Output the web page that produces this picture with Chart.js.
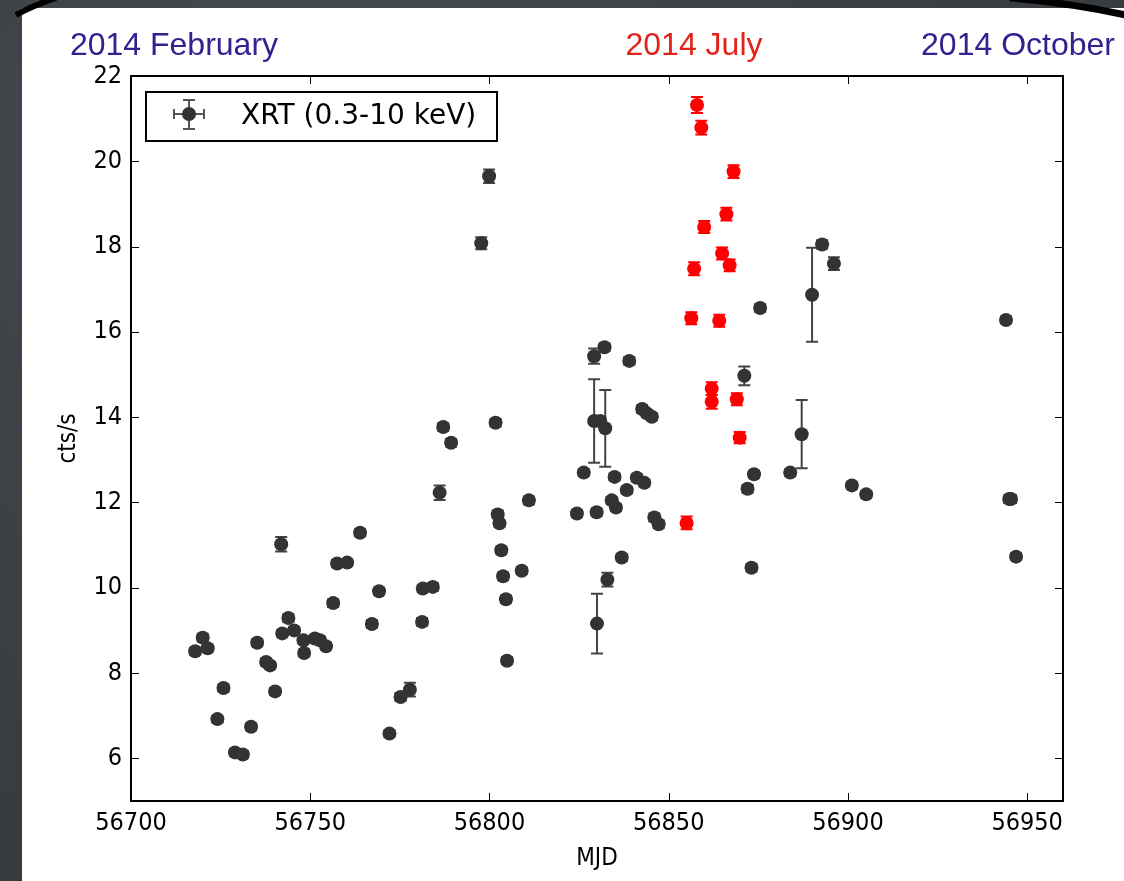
<!DOCTYPE html>
<html>
<head>
<meta charset="utf-8">
<title>XRT light curve 2014</title>
<script src="https://cdn.jsdelivr.net/npm/chart.js@4.4.1/dist/chart.umd.min.js"></script>
<style>
  html, body { margin: 0; padding: 0; }
  body {
    width: 1124px; height: 881px; overflow: hidden; position: relative;
    background: radial-gradient(ellipse at 30% 20%, #474a50 0%, #3a3d42 60%, #32353a 100%);
  }
  #panel { position: absolute; left: 22px; top: 8px; width: 1102px; height: 873px; background: #fff; }
  #frame { position: absolute; left: 0; top: 0; pointer-events: none; }
  .period {
    position: absolute; top: 28px; font: 32px "Liberation Sans", Arial, sans-serif;
    line-height: 32px; white-space: nowrap; transform: translateX(-50%);
  }
  #legend {
    position: absolute; left: 145px; top: 91px; width: 349px; height: 47px;
    border: 2px solid #000; background: #fff;
    font: 28px "DejaVu Sans", sans-serif; color: #000;
  }
  #legend svg { position: absolute; left: 0; top: 0; }
  #legend span { position: absolute; left: 94px; top: 5px; line-height: 34px; white-space: nowrap; }
</style>
</head>
<body>
<div id="panel"><canvas id="lc" width="1102" height="873"></canvas></div>
<svg id="frame" width="1124" height="881">
  <path d="M16 15 Q 34 5 56 -2" stroke="#000" stroke-width="6" fill="none"/>
  <path d="M1010 -2 Q 1070 3 1126 15" stroke="#000" stroke-width="7" fill="none"/>
</svg>
<div class="period" style="left:174px;color:#34208f">2014 February</div>
<div class="period" style="left:694px;color:#e3231b">2014 July</div>
<div class="period" style="left:1018px;color:#34208f">2014 October</div>
<div id="legend">
  <svg width="80" height="47">
    <g stroke="#555" stroke-width="2">
      <line x1="27" y1="21" x2="57" y2="21"/>
      <line x1="27" y1="16" x2="27" y2="26"/>
      <line x1="57" y1="16" x2="57" y2="26"/>
      <line x1="42" y1="7" x2="42" y2="36"/>
      <line x1="36" y1="7" x2="48" y2="7"/>
      <line x1="36" y1="36" x2="48" y2="36"/>
    </g>
    <circle cx="42" cy="21" r="7" fill="#333"/>
  </svg>
  <span>XRT (0.3-10 keV)</span>
</div>

<script>
// Swift/XRT count rates, 0.3-10 keV
const blackMjd = [
  56717.9, 56720.0, 56721.4, 56724.1, 56725.8, 56729.0, 56731.2, 56733.5, 56735.2, 56737.7,
  56738.8, 56740.2, 56741.9, 56742.2, 56743.9, 56745.5, 56748.1, 56748.3, 56751.3, 56752.7,
  56754.4, 56756.4, 56757.5, 56760.3, 56763.9, 56767.2, 56769.2, 56772.1, 56775.2, 56777.8,
  56781.2, 56781.4, 56784.2, 56786.1, 56787.1, 56789.3, 56797.7, 56799.9, 56801.7, 56802.3,
  56802.8, 56803.3, 56803.8, 56804.6, 56804.9, 56809.0, 56811.0, 56824.4, 56826.3, 56829.2,
  56829.2, 56830.0, 56829.9, 56830.9, 56832.1, 56832.3, 56832.9, 56834.1, 56834.9, 56835.3,
  56836.9, 56838.3, 56839.0, 56841.1, 56842.6, 56843.2, 56843.9, 56845.3, 56846.0, 56847.2,
  56871.1, 56872.0, 56873.1, 56873.8, 56875.5, 56883.9, 56887.1, 56890.0, 56892.8, 56896.1,
  56901.1, 56905.1, 56944.1, 56945.0, 56945.5, 56946.9
];
const blackRate = [
  8.51, 8.83, 8.58, 6.92, 7.65, 6.14, 6.09, 6.74, 8.71, 8.26,
  8.18, 7.57, 11.02, 8.93, 9.29, 9.00, 8.77, 8.47, 8.81, 8.77,
  8.63, 9.64, 10.57, 10.59, 11.29, 9.15, 9.92, 6.58, 7.44, 7.61,
  9.20, 9.98, 10.02, 12.23, 13.77, 13.40, 18.08, 19.65, 13.87, 11.72,
  11.51, 10.88, 10.27, 9.73, 8.29, 10.40, 12.05, 11.74, 12.70, 15.43,
  13.91, 9.16, 11.77, 13.91, 15.64, 13.74, 10.19, 12.05, 12.60, 11.88,
  10.71, 12.29, 15.32, 12.58, 14.19, 12.46, 14.09, 14.01, 11.65, 11.49,
  14.97, 12.32, 10.47, 12.66, 16.56, 12.70, 13.60, 16.87, 18.05, 17.60,
  12.40, 12.19, 16.28, 12.08, 12.08, 10.73
];
const blackErr = [
  0.08, 0.09, 0.08, 0.08, 0.08, 0.08, 0.08, 0.08, 0.08, 0.08,
  0.08, 0.08, 0.17, 0.08, 0.09, 0.08, 0.08, 0.08, 0.08, 0.08,
  0.08, 0.09, 0.08, 0.08, 0.08, 0.09, 0.08, 0.08, 0.09, 0.16,
  0.09, 0.08, 0.09, 0.17, 0.09, 0.09, 0.14, 0.16, 0.09, 0.09,
  0.08, 0.08, 0.08, 0.08, 0.08, 0.08, 0.09, 0.08, 0.08, 0.18,
  0.98, 0.70, 0.08, 0.09, 0.09, 0.90, 0.16, 0.08, 0.08, 0.08,
  0.08, 0.08, 0.09, 0.08, 0.09, 0.08, 0.08, 0.08, 0.09, 0.09,
  0.22, 0.09, 0.09, 0.08, 0.09, 0.08, 0.80, 1.10, 0.10, 0.15,
  0.08, 0.08, 0.08, 0.09, 0.09, 0.08
];

// July 2014 flare
const redMjd = [
  56855.0, 56856.3, 56857.1, 56857.9, 56859.1, 56859.9, 56862.0, 56862.0, 56864.1, 56864.9,
  56866.1, 56867.0, 56868.1, 56869.0, 56869.8
];
const redRate = [
  11.52, 16.32, 17.48, 21.32, 20.79, 18.46, 14.67, 14.36, 16.26, 17.84,
  18.76, 17.56, 19.76, 14.42, 13.52
];
const redErr = [
  0.15, 0.14, 0.15, 0.19, 0.16, 0.14, 0.15, 0.16, 0.14, 0.14,
  0.15, 0.14, 0.15, 0.14, 0.13
];

const mjdTicks  = [56700, 56750, 56800, 56850, 56900, 56950];
const rateTicks = [6, 8, 10, 12, 14, 16, 18, 20, 22];

const TICK_FONT = { family: '"DejaVu Sans Condensed", "DejaVu Sans", sans-serif', size: 25 };

function points(mjd, rate, err) {
  return mjd.map((m, i) => ({ x: m, y: rate[i], err: err[i] }));
}

// vertical error bars with caps, drawn underneath the markers
const errorBars = {
  id: 'errorBars',
  beforeDatasetsDraw(chart) {
    const { ctx, scales: { x, y } } = chart;
    ctx.save();
    ctx.lineWidth = 2;
    chart.data.datasets.forEach(ds => {
      ctx.strokeStyle = ds.errColor;
      ds.data.forEach(p => {
        const px  = x.getPixelForValue(p.x);
        const top = y.getPixelForValue(p.y + p.err);
        const bot = y.getPixelForValue(p.y - p.err);
        ctx.beginPath();
        ctx.moveTo(px, top);     ctx.lineTo(px, bot);
        ctx.moveTo(px - 6, top); ctx.lineTo(px + 6, top);
        ctx.moveTo(px - 6, bot); ctx.lineTo(px + 6, bot);
        ctx.stroke();
      });
    });
    ctx.restore();
  }
};

// closed axes box with inward ticks on all four sides
const axesBox = {
  id: 'axesBox',
  afterDraw(chart) {
    const { ctx, chartArea: a, scales: { x, y } } = chart;
    const len = 8;
    ctx.save();
    ctx.strokeStyle = '#000';
    ctx.lineWidth = 1;
    ctx.beginPath();
    mjdTicks.forEach(v => {
      const px = Math.round(x.getPixelForValue(v)) + 0.5;
      ctx.moveTo(px, a.bottom); ctx.lineTo(px, a.bottom - len);
      ctx.moveTo(px, a.top);    ctx.lineTo(px, a.top + len);
    });
    rateTicks.forEach(v => {
      const py = Math.round(y.getPixelForValue(v)) + 0.5;
      ctx.moveTo(a.left, py);  ctx.lineTo(a.left + len, py);
      ctx.moveTo(a.right, py); ctx.lineTo(a.right - len, py);
    });
    ctx.stroke();
    ctx.lineWidth = 2;
    ctx.strokeRect(a.left, a.top, a.right - a.left, a.bottom - a.top);
    ctx.restore();
  }
};

new Chart(document.getElementById('lc'), {
  type: 'scatter',
  data: {
    datasets: [
      {
        label: 'XRT (0.3-10 keV)',
        data: points(blackMjd, blackRate, blackErr),
        backgroundColor: '#333333',
        borderWidth: 0,
        pointRadius: 7,
        errColor: '#444444',
      },
      {
        label: 'XRT flare',
        data: points(redMjd, redRate, redErr),
        backgroundColor: '#ff0000',
        borderWidth: 0,
        pointRadius: 7,
        errColor: '#ff0000',
      },
    ],
  },
  options: {
    responsive: false,
    devicePixelRatio: 1,
    animation: false,
    events: [],
    layout: { padding: { top: 68, right: 61, left: 0, bottom: 0 } },
    plugins: { legend: { display: false }, tooltip: { enabled: false } },
    scales: {
      x: {
        type: 'linear',
        min: 56700,
        max: 56960,
        afterBuildTicks: s => { s.ticks = mjdTicks.map(v => ({ value: v })); },
        afterFit: s => { s.height = 80; },
        grid: { display: false, drawTicks: false },
        border: { display: false },
        ticks: { font: TICK_FONT, color: '#000', padding: 7, maxRotation: 0, callback: v => String(v) },
        title: { display: true, text: 'MJD', color: '#000', font: { ...TICK_FONT, size: 24 }, padding: { top: 0, bottom: 8 } },
      },
      y: {
        type: 'linear',
        min: 5,
        max: 22,
        afterBuildTicks: s => { s.ticks = rateTicks.map(v => ({ value: v })); },
        afterFit: s => { s.width = 109; },
        grid: { display: false, drawTicks: false },
        border: { display: false },
        ticks: { font: TICK_FONT, color: '#000', padding: 9, callback: v => String(v) },
        title: { display: true, text: 'cts/s', color: '#000', font: { ...TICK_FONT, size: 24 }, padding: { top: 32, bottom: 0 } },
      },
    },
  },
  plugins: [errorBars, axesBox],
});
</script>
</body>
</html>
